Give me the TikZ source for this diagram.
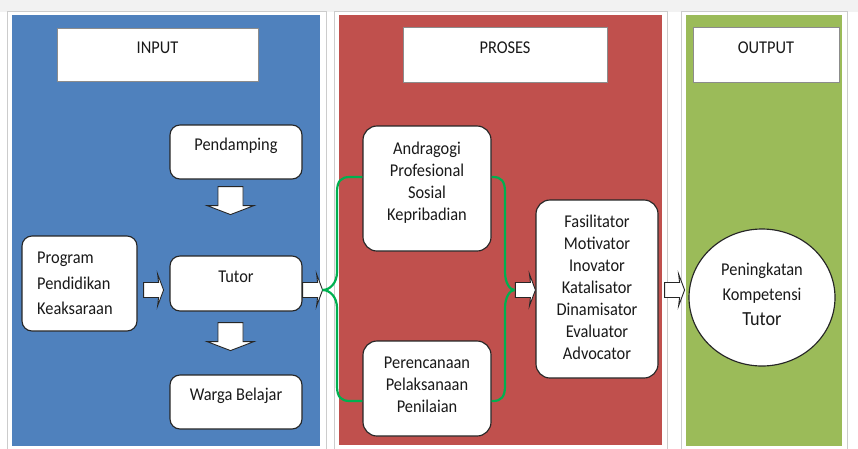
\documentclass[tikz,border=0pt]{standalone}
\usepackage{fontspec}
\setmainfont{Carlito}[FakeStretch=0.91]
\usetikzlibrary{calc,shapes.geometric}
\definecolor{panelblue}{HTML}{4F81BD}
\definecolor{panelred}{HTML}{C0504D}
\definecolor{panelgreen}{HTML}{9BBB59}
\definecolor{bracegreen}{HTML}{00B050}
\definecolor{pagegray}{HTML}{F2F2F2}
\begin{document}
\begin{tikzpicture}[x=1pt,y=-1pt,
  panelframe/.style={fill=white,draw=black!20,line width=0.8pt},
  header/.style={draw=black!45,fill=white,line width=0.6pt,inner sep=0pt},
  rbox/.style={draw=black!85,fill=white,rounded corners=10pt,line width=1.15pt,inner sep=0pt},
  txt/.style={font=\fontsize{18}{22}\selectfont,text=black!90,inner sep=0pt},
  capline/.style={txt,text height=5pt,text depth=7.4pt},
  brace/.style={draw=bracegreen,line width=2.2pt},
  blk/.style={draw=black!85,fill=white,line width=0.9pt,line join=miter},
  pics/rarrow/.style={code={
    \draw[blk] (0,-7.5) -- (15,-7.5) -- (14,-16) -- (20,0) -- (14,16) -- (15,7.5) -- (0,7.5) -- cycle;}},
  pics/darrow/.style={code={
    \draw[blk] (-12.5,0) -- (12.5,0) -- (12.5,19) -- (23.5,19) -- (0,28) -- (-23.5,19) -- (-12.5,19) -- cycle;}}
]
\useasboundingbox (0,0) rectangle (858,448);
\fill[white] (0,0) rectangle (858,448);
\fill[pagegray] (0,0) rectangle (858,12);

% three coloured columns
\draw[panelframe] (7,11) rectangle (326,449);
\fill[panelblue] (11.5,15) rectangle (319.5,445.5);
\draw[panelframe] (334,11) rectangle (667,449);
\fill[panelred] (339,15) rectangle (662,444.5);
\draw[panelframe] (681,11) rectangle (847,449);
\fill[panelgreen] (685.5,15) rectangle (842,445.5);

% column headings
\node[header,capline,minimum width=201pt,minimum height=53pt] (inhead) at (157.5,54.5) {INPUT};
\node[header,capline,minimum width=204pt,minimum height=55pt] (prhead) at (505,54.5) {PROSES};
\node[header,capline,minimum width=146pt,minimum height=55pt] (outhead) at (766,54.5) {OUTPUT};

% input column
\node[rbox,capline,minimum width=132pt,minimum height=54pt] (pend) at (236,152) {Pendamping};
\node[rbox,capline,minimum width=132pt,minimum height=55pt] (tutor) at (236,283.5) {Tutor};
\node[rbox,capline,minimum width=132pt,minimum height=54pt] (warga) at (236,402) {Warga Belajar};
\node[rbox,minimum width=115pt,minimum height=95pt] (prog) at (79.5,283.5) {};
\node[txt,font=\fontsize{18}{25.3}\selectfont,align=left,anchor=west] (progtxt) at (37,283.5) {Program\\Pendidikan\\Keaksaraan};

% process column
\node[rbox,rounded corners=14pt,minimum width=128pt,minimum height=125pt] (andr) at (427,188.5) {};
\node[txt,align=center] (andrtxt) at (427,182.8) {Andragogi\\Profesional\\Sosial\\Kepribadian};
\node[rbox,rounded corners=14pt,minimum width=128pt,minimum height=95pt] (pere) at (427,388.5) {};
\node[txt,align=center] (peretxt) at (427,384.4) {Perencanaan\\Pelaksanaan\\Penilaian};
\node[rbox,rounded corners=14pt,minimum width=122pt,minimum height=178pt] (fasil) at (597,289) {};
\node[txt,align=center] (fasiltxt) at (597,287.7) {Fasilitator\\Motivator\\Inovator\\Katalisator\\Dinamisator\\Evaluator\\Advocator};

% output column
\node[ellipse,draw=black!85,fill=white,line width=1.15pt,minimum width=146pt,minimum height=137pt,inner sep=0pt] (circ) at (762,297.5) {};
\node[txt,font=\fontsize{18}{25}\selectfont,align=center] (circtxt) at (762,294.2) {Peningkatan\\Kompetensi\\{\fontsize{20}{25}\selectfont Tutor}};

% block arrows
\pic at ($(pend.south)+(-5.5,7)$) {darrow};
\pic at ($(tutor.south)+(-5.5,11)$) {darrow};
\pic at ($(prog.east)+(6,6.5)$) {rarrow};
\pic at ($(tutor.east)+(0,6.5)$) {rarrow};
\pic at ($(fasil.west)+(-20,1)$) {rarrow};
\pic at ($(fasil.east)+(6,1)$) {rarrow};

\coordinate (jl) at ($(tutor.east)+(20,6.5)$);
\coordinate (jr) at ($(fasil.west)+(-21,1)$);

% green braces joining the two process boxes
\draw[brace] ($(andr.west)+(0,-11.5)$) -- (350,177) .. controls (341,177) and (337,181) .. (337,192) -- (337,272) .. controls (337,283) and (330,290) .. (jl);
\draw[brace] ($(pere.west)+(0,12.5)$) -- (350,401) .. controls (341,401) and (337,397) .. (337,386) -- (337,308) .. controls (337,297) and (330,290) .. (jl);
\draw[brace] ($(andr.east)+(0,-11.5)$) -- (493,177) .. controls (501,177) and (505,181) .. (505,192) -- (505,272) .. controls (505,283) and (510,290) .. (jr);
\draw[brace] ($(pere.east)+(0,12.5)$) -- (493,401) .. controls (501,401) and (505,397) .. (505,386) -- (505,308) .. controls (505,297) and (510,290) .. (jr);
\end{tikzpicture}
\end{document}
